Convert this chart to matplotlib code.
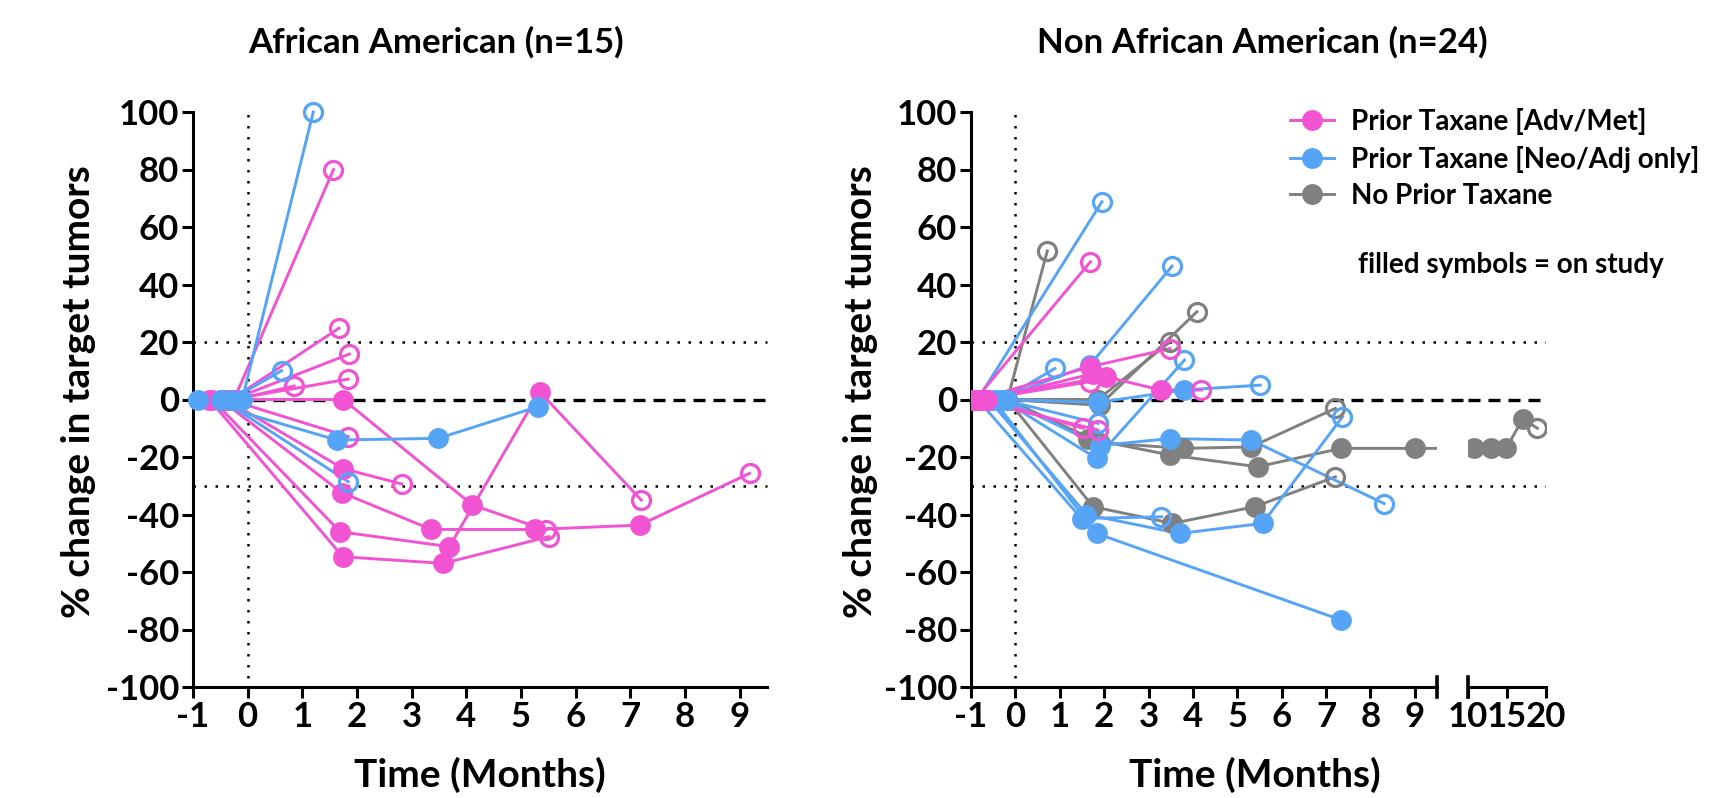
import matplotlib
matplotlib.use("Agg")
import matplotlib.pyplot as plt
from matplotlib.lines import Line2D

plt.rcParams['font.family'] = ['Lato', 'DejaVu Sans']
plt.rcParams['font.weight'] = 'bold'
plt.rcParams['axes.unicode_minus'] = False

PINK = "#F253D3"
BLUE = "#56A4F6"
GRAY = "#808080"

group_names = ["Prior Taxane [Adv/Met]", "Prior Taxane [Neo/Adj only]", "No Prior Taxane"]

# ---- African American (n=15) ----
aa_pink_x = [[-0.25, 1.57], [-0.3, 1.67], [-0.28, 1.86], [-0.3, 1.84], [-0.22, 0.85],
             [-0.45, 1.75, 4.11, 5.45], [-0.65, 1.69, 3.69, 5.34, 7.2],
             [-0.7, 1.74, 3.58, 5.51], [-0.5, 1.72, 3.36, 5.25, 7.17, 9.18],
             [-0.4, 1.74, 2.82], [-0.35, 1.84]]
aa_pink_y = [[0, 80], [0, 24.8], [0, 15.8], [0, 7.1], [0, 4.7],
             [0, 0, -36.7, -45.4], [0, -46, -51.2, 2.7, -35],
             [0, -54.7, -57, -47.7], [0, -32.4, -45.2, -45.2, -43.7, -25.7],
             [0, -24, -29.4], [0, -12.9]]
aa_pink_on = [False] * 11

aa_blue_x = [[-0.1, 1.2], [-0.3, 0.62], [-0.9, 1.63, 3.49, 5.31], [-0.48, 1.84]]
aa_blue_y = [[0, 100], [0, 10], [0, -14.1, -13.5, -2.5], [0, -28.6]]
aa_blue_on = [False, False, True, False]

# ---- Non African American (n=24) ----
naa_pink_x = [[-0.9, 1.69], [-0.85, 1.68, 3.48], [-0.8, 2.05, 3.27, 4.19], [-0.75, 1.68],
              [-0.7, 1.53], [-0.95, 1.86], [-0.65, 1.75]]
naa_pink_y = [[0, 47.9], [0, 11.4, 17.7], [0, 7.9, 3.3, 3.3], [0, 6.2],
              [0, -10], [0, -10.6], [0, 9]]
naa_pink_on = [False, False, False, False, False, False, True]

naa_blue_x = [[-0.85, 1.95], [-0.3, 0.89], [-0.4, 1.68, 3.53], [-0.2, 1.86, 3.79, 5.52],
              [-0.3, 1.83, 3.81], [-0.3, 1.86], [-0.25, 1.9, 3.48, 5.31, 8.31],
              [-0.85, 1.49, 3.29], [-0.5, 1.83, 7.34], [-0.6, 1.6, 3.70, 5.57, 7.37]]
naa_blue_y = [[0, 68.8], [0, 10.8], [0, 12, 46.4], [0, -1, 3.3, 5],
              [0, -20.5, 13.7], [0, -8.3], [0, -16, -13.6, -14.1, -36.2],
              [0, -41.4, -40.8], [0, -46.6, -76.7], [0, -40, -46.6, -43.1, -6]]
naa_blue_on = [False, False, False, False, False, False, False, False, True, False]

naa_gray_x = [[-0.18, 0.72], [-0.18, 1.86, 3.48], [-0.18, 1.9, 4.09],
              [-0.18, 1.64, 3.48, 5.46, 7.34, 9.0, 10.8, 13.0, 14.9, 17.0, 18.9],
              [-0.18, 1.75, 3.54, 5.39, 7.21], [-0.18, 1.9, 3.78, 5.31, 7.21], [-0.18, 1.86]]
naa_gray_y = [[0, 51.7], [0, 0, 20], [0, -2, 30.5],
              [0, -13.6, -19.3, -23.4, -17, -17, -17, -17, -17, -6.8, -10],
              [0, -37.3, -43.1, -37.3, -26.9], [0, -15, -17, -16.5, -3.1], [0, 0]]
naa_gray_on = [False, False, False, False, False, False, True]

yticks = list(range(-100, 101, 20))
xticks_main = list(range(-1, 10))
xticks_far = [10, 15, 20]

W, H = 1736, 798
fig = plt.figure(figsize=(W / 100, H / 100), dpi=100)


def px_axes(x0, x1, y_top=112, y_bot=687):
    return fig.add_axes([x0 / W, 1 - y_bot / H, (x1 - x0) / W, (y_bot - y_top) / H])


axL = px_axes(193, 767)
axR = px_axes(971, 1437)
axF = px_axes(1468, 1546)
for ax in (axL, axR, axF):
    ax.patch.set_visible(False)

DOT = (0, (1, 3.4))
DASH = (0, (3.6, 2.4))
TICK_FS = 25
LABEL_FS = 28
LW = 2.1


def draw_patient(ax, xs, ys, on, color, clip=True):
    ax.plot(xs, ys, color=color, lw=LW, zorder=3, clip_on=clip)
    if on:
        fx, fy = xs, ys
    else:
        fx, fy = xs[:-1], ys[:-1]
    ax.plot(fx, fy, 'o', ms=15, mfc=color, mec=color, mew=0, ls='none', zorder=4, clip_on=clip)
    if not on:
        ax.plot(xs[-1:], ys[-1:], 'o', ms=13, mfc='none', mec=color, mew=2.3, ls='none',
                zorder=4, clip_on=clip)


def style_axes(ax, xlim, xticks):
    ax.set_xlim(*xlim)
    ax.set_ylim(-100, 100)
    ax.set_xticks(xticks)
    ax.set_yticks(yticks)
    ax.spines[['top', 'right']].set_visible(False)
    ax.spines[['left', 'bottom']].set_linewidth(2.2)
    ax.tick_params(width=2.2, length=8, labelsize=TICK_FS, pad=2)


def ref_lines(ax, x_end):
    ax.plot([-1, x_end], [20, 20], color='k', lw=1.8, ls=DOT, clip_on=False, zorder=1)
    ax.plot([-1, x_end], [-30, -30], color='k', lw=1.8, ls=DOT, clip_on=False, zorder=1)
    ax.plot([-1, x_end], [0, 0], color='k', lw=2.4, ls=DASH, clip_on=False, zorder=1)
    ax.plot([0, 0], [-97, 100], color='k', lw=1.8, ls=DOT, zorder=1)


# left panel
style_axes(axL, (-1, 9.5), xticks_main)
ref_lines(axL, 9.5)
for xs, ys, on in zip(aa_pink_x, aa_pink_y, aa_pink_on):
    draw_patient(axL, xs, ys, on, PINK, clip=False)
for xs, ys, on in zip(aa_blue_x, aa_blue_y, aa_blue_on):
    draw_patient(axL, xs, ys, on, BLUE, clip=False)

# right panel, broken x axis
style_axes(axR, (-1, 9.5), xticks_main)
ref_lines(axR, 9.5 + 31 / 44.4)
style_axes(axF, (10, 20), xticks_far)
axF.spines['left'].set_visible(False)
axF.tick_params(axis='y', left=False, labelleft=False)
for yv, ls, lw in [(20, DOT, 1.8), (-30, DOT, 1.8), (0, DASH, 2.4)]:
    axF.plot([10, 20], [yv, yv], color='k', lw=lw, ls=ls, zorder=1)
for ax in (axR, axF):
    for xs, ys, on in zip(naa_gray_x, naa_gray_y, naa_gray_on):
        draw_patient(ax, xs, ys, on, GRAY)
    for xs, ys, on in zip(naa_blue_x, naa_blue_y, naa_blue_on):
        draw_patient(ax, xs, ys, on, BLUE)
    for xs, ys, on in zip(naa_pink_x, naa_pink_y, naa_pink_on):
        draw_patient(ax, xs, ys, on, PINK)

# break caps
axR.plot([1, 1], [-0.018, 0.018], transform=axR.transAxes, color='k', lw=2.6, clip_on=False)
axF.plot([0, 0], [-0.018, 0.018], transform=axF.transAxes, color='k', lw=2.6, clip_on=False)

# legend
handles = [Line2D([], [], color=c, lw=LW, marker='o', ms=15, mew=0) for c in (PINK, BLUE, GRAY)]
fig.legend(handles, group_names, loc='upper left', bbox_to_anchor=(1290 / W, 1 - 108 / H),
           frameon=False, fontsize=20, handlelength=1.6, handletextpad=0.6,
           labelspacing=0.38, borderpad=0, borderaxespad=0)
fig.text(1358 / W, 1 - 265 / H, "filled symbols = on study", fontsize=20, va='center', ha='left')

# titles and labels
fig.text(436 / W, 1 - 42 / H, "African American (n=15)", fontsize=25, ha='center', va='center')
fig.text(1262 / W, 1 - 42 / H, "Non African American (n=24)", fontsize=25, ha='center', va='center')
fig.text(480 / W, 1 - 775 / H, "Time (Months)", fontsize=LABEL_FS, ha='center', va='center')
fig.text(1255 / W, 1 - 775 / H, "Time (Months)", fontsize=LABEL_FS, ha='center', va='center')
fig.text(79 / W, 1 - 392 / H, "% change in target tumors", fontsize=LABEL_FS, rotation=90,
         ha='center', va='center')
fig.text(860 / W, 1 - 392 / H, "% change in target tumors", fontsize=LABEL_FS, rotation=90,
         ha='center', va='center')

fig.savefig("out.png", dpi=100)
plt.close()
